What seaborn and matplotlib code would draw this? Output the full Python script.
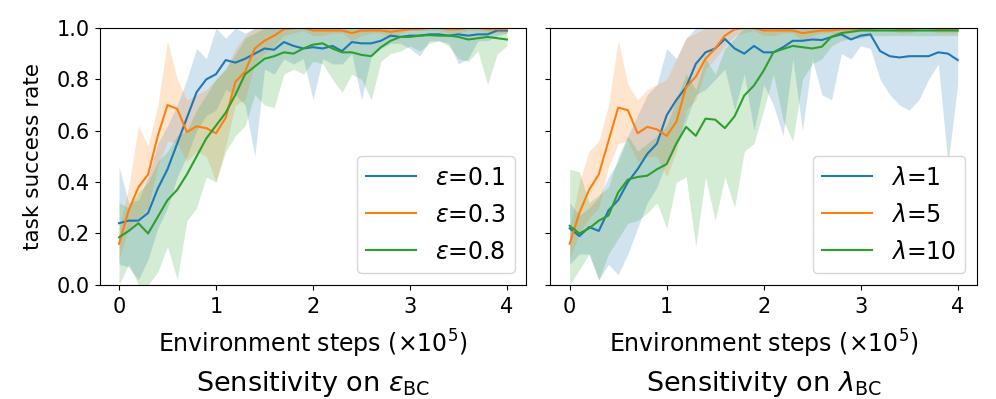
import numpy as np
import pandas as pd
import matplotlib
matplotlib.use('Agg')
import matplotlib.pyplot as plt
import seaborn as sns

plt.rcParams['font.size'] = 15
plt.rcParams['legend.fontsize'] = 17

# evaluation points (x 1e5 environment steps)
steps = np.arange(41) / 10

# --- sensitivity on epsilon_BC ---
eps_labels = [r'$\epsilon$=0.1', r'$\epsilon$=0.3', r'$\epsilon$=0.8']
eps01_mean = [0.24, 0.25, 0.25, 0.28, 0.375, 0.45, 0.55, 0.65, 0.75, 0.80,
              0.82, 0.875, 0.865, 0.88, 0.90, 0.92, 0.915, 0.945, 0.93, 0.92,
              0.925, 0.92, 0.93, 0.91, 0.945, 0.94, 0.94, 0.95, 0.97, 0.965,
              0.97, 0.97, 0.975, 0.975, 0.97, 0.975, 0.97, 0.975, 0.975, 0.99, 0.99]
eps01_lo = [0.08, 0.07, 0.02, 0.10, 0.22, 0.30, 0.42, 0.50, 0.60, 0.66,
            0.68, 0.76, 0.74, 0.70, 0.50, 0.84, 0.82, 0.88, 0.86, 0.88,
            0.72, 0.88, 0.86, 0.86, 0.90, 0.72, 0.89, 0.92, 0.94, 0.94,
            0.92, 0.89, 0.95, 0.95, 0.94, 0.86, 0.88, 0.95, 0.95, 0.97, 0.98]
eps01_hi = [0.46, 0.32, 0.33, 0.42, 0.55, 0.62, 0.70, 0.80, 0.92, 0.88,
            1.0, 0.96, 1.0, 0.98, 1.0] + [1.0] * 26

eps03_mean = [0.16, 0.29, 0.38, 0.43, 0.58, 0.70, 0.685, 0.595, 0.617, 0.61,
              0.59, 0.65, 0.79, 0.83, 0.92, 0.95, 0.97, 0.995, 1.0, 1.0,
              0.99, 0.99, 0.99, 0.99, 0.98, 0.99, 0.99, 0.99, 0.985, 0.99,
              0.995, 0.995, 1.0, 1.0, 0.995, 0.995, 1.0, 1.0, 0.995, 0.995, 0.995]
eps03_lo = [0.10, 0.22, 0.26, 0.30, 0.46, 0.56, 0.55, 0.48, 0.52, 0.50,
            0.40, 0.54, 0.70, 0.72, 0.86, 0.90, 0.93, 0.97, 0.98, 0.99,
            0.97, 0.97, 0.98, 0.98, 0.95, 0.97, 0.98, 0.98, 0.96, 0.98,
            0.99, 0.99, 0.99, 0.99, 0.98, 0.98, 0.99, 0.99, 0.98, 0.98, 0.98]
eps03_hi = [0.22, 0.38, 0.62, 0.54, 0.70, 0.95, 0.80, 0.72, 0.74, 0.76,
            0.80, 0.84, 0.92, 0.97] + [1.0] * 27

eps08_mean = [0.185, 0.21, 0.24, 0.20, 0.265, 0.33, 0.37, 0.43, 0.50, 0.57,
              0.62, 0.67, 0.74, 0.82, 0.85, 0.88, 0.89, 0.905, 0.90, 0.92,
              0.935, 0.94, 0.92, 0.905, 0.905, 0.895, 0.89, 0.925, 0.95, 0.965,
              0.965, 0.97, 0.972, 0.97, 0.97, 0.965, 0.955, 0.96, 0.965, 0.96, 0.955]
eps08_lo = [0.0, 0.08, 0.0, 0.0, 0.05, 0.15, 0.02, 0.25, 0.30, 0.42,
            0.40, 0.52, 0.58, 0.62, 0.74, 0.70, 0.69, 0.82, 0.84, 0.82,
            0.87, 0.86, 0.80, 0.75, 0.82, 0.80, 0.72, 0.87, 0.90, 0.91,
            0.93, 0.91, 0.94, 0.95, 0.93, 0.88, 0.87, 0.91, 0.78, 0.90, 0.93]
eps08_hi = [0.32, 0.30, 0.36, 0.40, 0.48, 0.52, 0.58, 0.60, 0.68, 0.74,
            0.80, 0.84, 0.90, 0.96, 0.98] + [1.0] * 26

# --- sensitivity on lambda_BC ---
lam_labels = [r'$\lambda$=1', r'$\lambda$=5', r'$\lambda$=10']
lam1_mean = [0.22, 0.19, 0.225, 0.21, 0.29, 0.33, 0.40, 0.45, 0.51, 0.55,
             0.66, 0.72, 0.77, 0.86, 0.905, 0.92, 0.957, 0.92, 0.90, 0.93,
             0.905, 0.905, 0.925, 0.95, 0.95, 0.955, 0.953, 0.965, 0.975, 0.955,
             0.97, 0.975, 0.91, 0.89, 0.885, 0.89, 0.89, 0.89, 0.905, 0.90, 0.875]
lam1_lo = [0.08, 0.12, 0.12, 0.02, 0.08, 0.04, 0.12, 0.22, 0.32, 0.38,
           0.48, 0.55, 0.64, 0.74, 0.76, 0.80, 0.84, 0.68, 0.82, 0.60,
           0.78, 0.70, 0.58, 0.88, 0.60, 0.88, 0.74, 0.72, 0.90, 0.88,
           0.93, 0.92, 0.80, 0.74, 0.70, 0.68, 0.72, 0.80, 0.86, 0.47, 0.78]
lam1_hi = [0.32, 0.27, 0.30, 0.34, 0.42, 0.48, 0.58, 0.66, 0.74, 0.78,
           0.92, 0.88, 0.96, 1.0] + [1.0] * 27

lam5_mean = [0.16, 0.28, 0.37, 0.43, 0.56, 0.69, 0.68, 0.59, 0.615, 0.605,
             0.58, 0.635, 0.77, 0.81, 0.88, 0.92, 0.97, 0.995, 1.0, 1.0,
             0.99, 0.99, 0.99, 0.99, 0.98, 0.985, 0.99, 0.99, 0.995, 0.995,
             0.995, 0.995, 1.0, 1.0, 0.995, 0.995, 1.0, 1.0, 0.995, 0.995, 0.995]
lam5_lo = [0.10, 0.20, 0.26, 0.30, 0.46, 0.55, 0.56, 0.48, 0.50, 0.50,
           0.42, 0.52, 0.68, 0.72, 0.84, 0.88, 0.93, 0.97, 0.98, 0.99,
           0.97, 0.97, 0.98, 0.98, 0.95, 0.97, 0.98, 0.98, 0.97, 0.98,
           0.99, 0.99, 0.99, 0.99, 0.98, 0.98, 0.99, 0.99, 0.98, 0.98, 0.98]
lam5_hi = [0.22, 0.40, 0.52, 0.56, 0.70, 0.95, 0.78, 0.72, 0.76, 0.78,
           0.80, 0.88, 0.96, 0.98] + [1.0] * 27

lam10_mean = [0.23, 0.20, 0.22, 0.25, 0.27, 0.36, 0.41, 0.42, 0.425, 0.45,
              0.47, 0.55, 0.615, 0.58, 0.647, 0.643, 0.61, 0.656, 0.737, 0.776,
              0.834, 0.905, 0.918, 0.93, 0.925, 0.92, 0.927, 0.966, 0.98, 0.985,
              0.99, 0.99, 0.99, 0.99, 0.99, 0.99, 0.99, 0.99, 0.99, 0.99, 0.99]
lam10_lo = [0.0, 0.06, 0.12, 0.02, 0.12, 0.18, 0.24, 0.25, 0.28, 0.32,
            0.22, 0.40, 0.42, 0.15, 0.42, 0.25, 0.42, 0.30, 0.52, 0.55,
            0.68, 0.82, 0.64, 0.56, 0.80, 0.86, 0.88, 0.93, 0.95, 0.96,
            0.96, 0.97, 0.97, 0.97, 0.97, 0.97, 0.97, 0.97, 0.97, 0.97, 0.97]
lam10_hi = [0.45, 0.44, 0.32, 0.35, 0.38, 0.50, 0.58, 0.52, 0.55, 0.58,
            0.62, 0.72, 0.82, 0.76, 0.88, 0.82, 0.92, 0.96, 1.0] + [1.0] * 22

palette = sns.color_palette('tab10', 3)

fig, axs = plt.subplots(1, 2, figsize=(9.96, 3.99), dpi=100, sharey=True)
fig.subplots_adjust(left=0.1, right=0.981, bottom=0.286, top=0.93, wspace=0.056)

panels = [
    (eps_labels, [eps01_mean, eps03_mean, eps08_mean], [eps01_lo, eps03_lo, eps08_lo],
     [eps01_hi, eps03_hi, eps08_hi], r'Sensitivity on $\epsilon_{\mathrm{BC}}$'),
    (lam_labels, [lam1_mean, lam5_mean, lam10_mean], [lam1_lo, lam5_lo, lam10_lo],
     [lam1_hi, lam5_hi, lam10_hi], r'Sensitivity on $\lambda_{\mathrm{BC}}$'),
]

for ax, (labels, means, los, his, title) in zip(axs, panels):
    df = pd.concat([pd.DataFrame({'step': steps, 'rate': m, 'setting': lab})
                    for lab, m in zip(labels, means)])
    sns.lineplot(data=df, x='step', y='rate', hue='setting', palette=palette,
                 linewidth=1.5, ax=ax)
    for color, lo, hi in zip(palette, los, his):
        ax.fill_between(steps, lo, hi, color=color, alpha=0.2, linewidth=0)
    ax.set_xlim(-0.2, 4.2)
    ax.set_ylim(0, 1)
    ax.set_xticks([0, 1, 2, 3, 4])
    ax.tick_params(axis='x', pad=5)
    ax.set_xlabel(r'Environment steps ($\times 10^5$)', fontsize=17, labelpad=8)
    ax.set_ylabel('')
    ax.set_title(title, y=-0.445, fontsize=19.5)
    ax.legend(loc='lower right', handlelength=2.1, handletextpad=0.8,
              labelspacing=0.55)

axs[0].set_ylabel('task success rate', fontsize=15.5, labelpad=10)

fig.savefig('out.png', dpi=100)
